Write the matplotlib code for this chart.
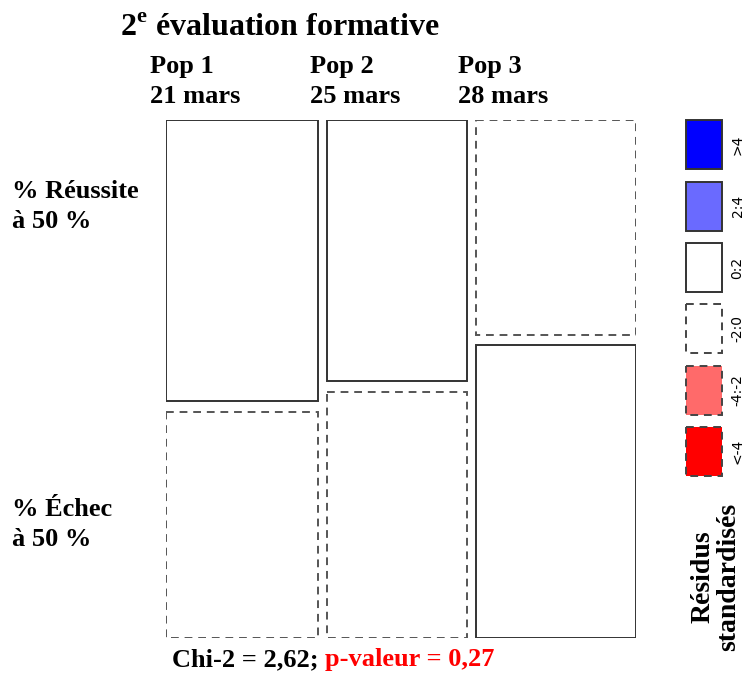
import matplotlib
matplotlib.use("Agg")
import matplotlib.pyplot as plt
from matplotlib.patches import Rectangle
import numpy as np

plt.rcParams['font.family'] = ['Liberation Serif', 'DejaVu Serif']
plt.rcParams['font.weight'] = 'bold'
plt.rcParams['mathtext.fontset'] = 'custom'
plt.rcParams['mathtext.rm'] = 'Liberation Serif:bold'
plt.rcParams['mathtext.bf'] = 'Liberation Serif:bold'

populations = ["Pop 1\n21 mars", "Pop 2\n25 mars", "Pop 3\n28 mars"]
resultats = ["% Réussite\nà 50 %", "% Échec\nà 50 %"]
reussite = np.array([41, 35, 33])
echec = np.array([33, 33, 45])

legende_labels = [">4", "2:4", "0:2", "-2:0", "-4:-2", "<-4"]
legende_couleurs = ["#0000ff", "#6a6aff", "white", "white", "#ff6a6a", "#ff0000"]
legende_traits = ["solid", "solid", "solid", "dashed", "dashed", "dashed"]

tableau = np.vstack([reussite, echec])
total = tableau.sum()
attendu = np.outer(tableau.sum(axis=1), tableau.sum(axis=0)) / total
residus = (tableau - attendu) / np.sqrt(attendu)

fig = plt.figure(figsize=(7.52, 6.74), dpi=100)
W, H = 752, 674

def ax_px(x0, y0, x1, y1):
    return fig.add_axes([x0 / W, 1 - y1 / H, (x1 - x0) / W, (y1 - y0) / H])

ax = ax_px(166, 120, 636, 638)
gap = 0.02
largeurs = tableau.sum(axis=0) / total
ax.set_xlim(0, 1 + gap * (len(largeurs) - 1))
ax.set_ylim(0, 1 + gap)
ax.invert_yaxis()
ax.axis("off")

x = 0
for j, w in enumerate(largeurs):
    parts = tableau[:, j] / tableau[:, j].sum()
    y = 0
    for i, h in enumerate(parts):
        r = residus[i, j]
        if r >= 0:
            ls, ec = "solid", "#333333"
        else:
            ls, ec = (0, (4, 3)), "#555555"
        ax.add_patch(Rectangle((x, y), w, h, facecolor="white", edgecolor=ec,
                               linewidth=1.4, linestyle=ls))
        y += h + gap
    x += w + gap

# legende des residus
lax = ax_px(680, 110, 752, 478)
lax.set_xlim(0, 1)
lax.set_ylim(len(legende_labels), 0)
lax.axis("off")
for k, (lab, c, t) in enumerate(zip(legende_labels, legende_couleurs, legende_traits)):
    ls = "solid" if t == "solid" else (0, (4, 3))
    lax.add_patch(Rectangle((0.08, k + 0.17), 0.5, 0.8, facecolor=c,
                            edgecolor="#333333" if t == "solid" else "#444444",
                            linewidth=1.4, linestyle=ls))
    lax.text(0.8, k + 0.57, lab, rotation=90, ha="center", va="center",
             fontsize=10, fontweight="normal", family="DejaVu Sans")

# textes
fig.text(120 / W, 1 - 36 / H, "2$^\\mathrm{e}$ évaluation formative", fontsize=23,
         ha="left", va="baseline")
for lab, xp in zip(populations, [150, 310, 458]):
    fig.text(xp / W, 1 - 103 / H, lab, fontsize=19, ha="left", va="baseline",
             linespacing=1.4)
for lab, yp in zip(resultats, [228, 546]):
    fig.text(12 / W, 1 - yp / H, lab, fontsize=19, ha="left", va="baseline",
             linespacing=1.4)
fig.text(716 / W, 1 - 577 / H, "Résidus\nstandardisés", rotation=90, fontsize=20,
         ha="center", va="center", linespacing=1.0)

t1 = fig.text(172 / W, 1 - 666 / H, "Chi-2 = 2,62; ", fontsize=19, ha="left", va="baseline")
fig.canvas.draw()
bb = t1.get_window_extent()
fig.text(bb.x1 / W, 1 - 666 / H, "p-valeur = 0,27", fontsize=19, color="#ff0000",
         ha="left", va="baseline")

fig.savefig("out.png", dpi=100)
